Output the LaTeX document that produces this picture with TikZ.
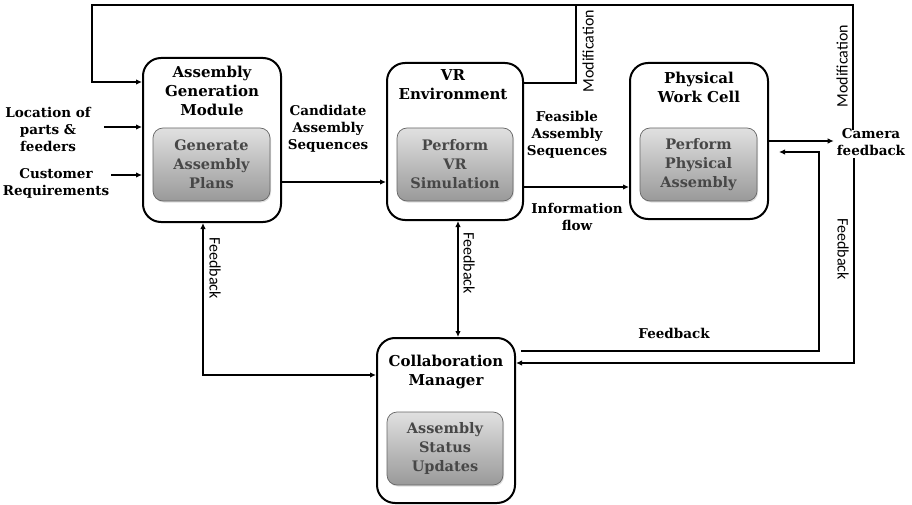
\documentclass[tikz,border=0pt]{standalone}
\usepackage{fontspec}
\setmainfont{DejaVu Serif}
\newfontfamily\labelsans{Carlito}
\usetikzlibrary{arrows.meta,shadows}

\begin{document}
\begin{tikzpicture}[x=1pt,y=-1pt,
  outerbox/.style={draw=black, line width=2pt, rounded corners=18pt, fill=white, inner sep=0pt},
  innerbox/.style={draw=black!60, line width=0.7pt, rounded corners=10pt,
    top color=black!12, bottom color=black!40, inner sep=0pt,
    drop shadow={opacity=0.25, shadow xshift=1pt, shadow yshift=-1.5pt},
    font=\bfseries\fontsize{14.5}{19}\selectfont, text=black!72, align=center},
  title/.style={font=\bfseries\fontsize{15}{19}\selectfont, align=center, inner sep=0pt},
  sidelabel/.style={font=\bfseries\fontsize{13.5}{17}\selectfont, align=center, inner sep=0pt},
  rotlabel/.style={font=\labelsans\fontsize{16}{18}\selectfont, inner sep=0pt},
  flow/.style={line width=1.8pt, -{Latex[length=6pt,width=5.5pt]}},
  twoway/.style={line width=1.8pt, {Latex[length=6pt,width=5.5pt]}-{Latex[length=6pt,width=5.5pt]}},
  plain/.style={line width=1.8pt},
]
\useasboundingbox (0,0) rectangle (912,505);

% ---- module boxes ----
\node[outerbox, minimum width=138pt, minimum height=164pt] (agm) at (212,140) {};
\node[title] (agmt) at (212,91) {Assembly\\Generation\\Module};
\node[innerbox, minimum width=117pt, minimum height=73pt] (agmi) at (211.5,164.5) {Generate\\Assembly\\Plans};

\node[outerbox, minimum width=136pt, minimum height=157pt] (vr) at (455,141.5) {};
\node[title] (vrt) at (453,85) {VR\\Environment};
\node[innerbox, minimum width=116pt, minimum height=73pt] (vri) at (455,164.5) {Perform\\VR\\Simulation};

\node[outerbox, minimum width=138pt, minimum height=156pt] (pwc) at (699,141) {};
\node[title] (pwct) at (699,87) {Physical\\Work Cell};
\node[innerbox, minimum width=117pt, minimum height=73pt] (pwci) at (698.5,164.5) {Perform\\Physical\\Assembly};

\node[outerbox, minimum width=138pt, minimum height=165pt] (col) at (446,420.5) {};
\node[title] (colt) at (446,372) {Collaboration\\Manager};
\node[innerbox, minimum width=116pt, minimum height=73pt] (coli) at (445,448.5) {Assembly\\Status\\Updates};

% ---- free-standing labels ----
\node[sidelabel] (loc) at (48,129) {Location of\\parts \&\\feeders};
\node[sidelabel] (cust) at (56,183.5) {Customer\\Requirements};
\node[sidelabel] (cand) at (328,129) {Candidate\\Assembly\\Sequences};
\node[sidelabel] (feas) at (567,135) {Feasible\\Assembly\\Sequences};
\node[sidelabel] (info) at (577,216.5) {Information\\flow};
\node[sidelabel] (cam) at (871,142) {Camera\\feedback};
\node[sidelabel] (fbh) at (674,333) {Feedback};

\node[rotlabel, rotate=90] (mod1) at (588,51) {Modification};
\node[rotlabel, rotate=90] (mod2) at (842,66) {Modification};
\node[rotlabel, rotate=-90] (fb1) at (215,268) {Feedback};
\node[rotlabel, rotate=-90] (fb2) at (469,263) {Feedback};
\node[rotlabel, rotate=-90] (fb3) at (843,249) {Feedback};

% ---- routing points of the loop along the top ----
\coordinate (topleft) at (92,5);
\coordinate (vrtop) at (576,5);

% ---- connectors ----
\draw[flow] ([xshift=13pt,yshift=2pt]loc.east) -- ([yshift=2pt]loc.east -| agm.west);
\draw[flow] ([xshift=2pt,yshift=8.5pt]cust.east) -- ([yshift=8.5pt]cust.east -| agm.west);

\draw[flow] ([yshift=-42pt]agm.east) -- ([yshift=-42pt]agm.east -| vr.west);
\draw[flow] ([yshift=-45.5pt]vr.east) -- ([yshift=-45.5pt]vr.east -| pwc.west);
\draw[flow] (pwc.east) -- ([xshift=-3pt]pwc.east -| cam.west);

% camera feedback back to the top of the chain
\draw[flow] ([xshift=-18pt,yshift=-2pt]cam.north) |- (topleft) |- ([yshift=58pt]agm.west);
\draw[plain] ([yshift=58.5pt]vr.east) -| (vrtop);

% feedback paths through the collaboration manager
\draw[flow] ([xshift=-17pt,yshift=-2pt]cam.south) |- ([yshift=57.5pt]col.east);
\draw[flow] ([xshift=5pt,yshift=69.5pt]col.east) -| ([xshift=50pt,yshift=-11pt]pwc.east) -- ([xshift=10pt,yshift=-11pt]pwc.east);
\draw[twoway] ([xshift=-9pt]agm.south) |- ([yshift=45.5pt]col.west);
\draw[twoway] ([xshift=3pt]vr.south) -- ([xshift=3pt]vr.south |- col.north);
\end{tikzpicture}
\end{document}
